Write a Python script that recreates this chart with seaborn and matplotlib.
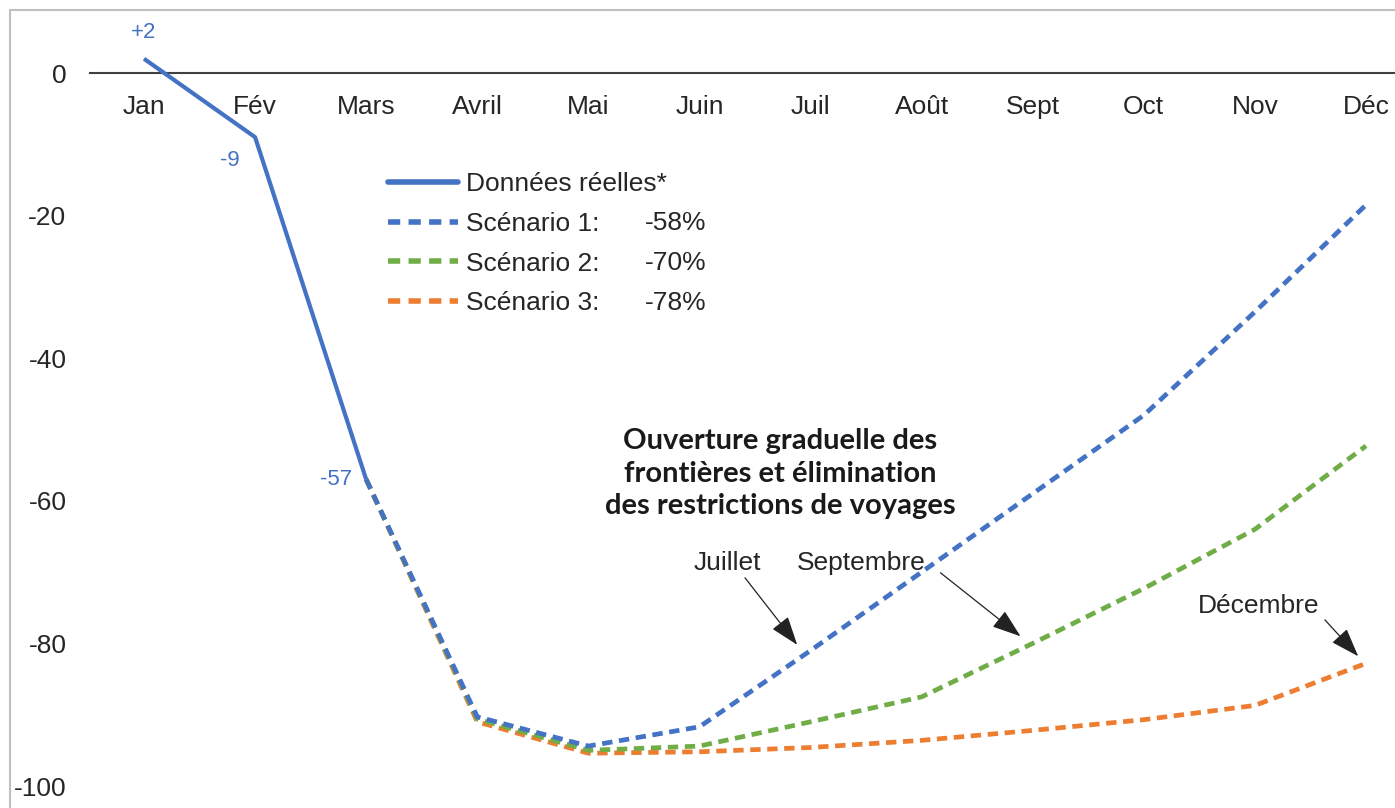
import matplotlib
matplotlib.use("Agg")
import matplotlib.pyplot as plt
from matplotlib.lines import Line2D
import seaborn as sns
import pandas as pd

# ---- data ----
months = ["Jan", "Fév", "Mars", "Avril", "Mai", "Juin", "Juil", "Août", "Sept", "Oct", "Nov", "Déc"]
actual = [2, -9, -57]
scen1 = [-57, -90.3, -94.4, -91.7, -81, -70, -59, -48, -33.5, -18.5]
scen2 = [-57, -90.6, -95.0, -94.4, -91.0, -87.5, -80, -72.3, -64, -52.3]
scen3 = [-57, -91.0, -95.4, -95.2, -94.6, -93.6, -92.2, -90.7, -88.7, -82.8]
actual_labels = ["+2", "-9", "-57"]
legend_labels = ["Données réelles*", "Scénario 1:", "Scénario 2:", "Scénario 3:"]
legend_pct = ["-58%", "-70%", "-78%"]
yticks = [0, -20, -40, -60, -80, -100]
note_text = "Ouverture graduelle des\nfrontières et élimination\ndes restrictions de voyages"
arrow_labels = ["Juillet", "Septembre", "Décembre"]

BLUE = "#4472C4"
GREEN = "#70AD47"
ORANGE = "#ED7D31"
TXT = "#262626"

sns.set_style("white")
plt.rcParams["font.family"] = ["Liberation Sans", "DejaVu Sans"]

W, H = 1395, 808
fig = plt.figure(figsize=(W / 100, H / 100), dpi=100)
fig.patch.set_facecolor("white")
ax = fig.add_axes([90 / W, 0, 1 - 90 / W, 1])

x_idx = list(range(len(months)))
df_act = pd.DataFrame({"x": x_idx[:3], "y": actual})
dash = (0, (2.2, 1.4))
lw = 3.4

for vals, col, z in [(scen3, ORANGE, 3), (scen2, GREEN, 4), (scen1, BLUE, 5)]:
    d = pd.DataFrame({"x": x_idx[2:], "y": vals})
    sns.lineplot(data=d, x="x", y="y", ax=ax, color=col, linewidth=lw,
                 linestyle=dash, zorder=z)
sns.lineplot(data=df_act, x="x", y="y", ax=ax, color=BLUE, linewidth=3.0,
             solid_capstyle="butt", zorder=6)

# axes setup
ax.set_xlim(-54 / 111.09, (W - 144) / 111.09)
ax.set_ylim(-(H - 73) / 7.13, 73 / 7.13)
for s in ["left", "right", "top"]:
    ax.spines[s].set_visible(False)
ax.spines["bottom"].set_position(("data", 0))
ax.spines["bottom"].set_color("#404040")
ax.spines["bottom"].set_linewidth(1.5)
ax.set_xticks(x_idx)
ax.set_xticklabels(months)
ax.set_yticks(yticks)
ax.set_yticklabels([str(v) for v in yticks])
ax.tick_params(axis="x", length=0, pad=16, labelsize=19, labelcolor=TXT)
ax.tick_params(axis="y", length=0, pad=17, labelsize=19, labelcolor=TXT)
ax.set_xlabel("")
ax.set_ylabel("")
ax.grid(False)

# data labels
offsets = [((0, 19), "center"), ((-18, -17), "center"), ((-10, 0), "right")]
for i, (lab, (off, ha)) in enumerate(zip(actual_labels, offsets)):
    ax.annotate(lab, (x_idx[i], actual[i]), xytext=off, textcoords="offset points",
                ha=ha, va="center", fontsize=16, color=BLUE)

# legend
handles = [Line2D([], [], color=BLUE, lw=4),
           Line2D([], [], color=BLUE, lw=4, linestyle=(0, (2.2, 1.5))),
           Line2D([], [], color=GREEN, lw=4, linestyle=(0, (2.2, 1.5))),
           Line2D([], [], color=ORANGE, lw=4, linestyle=(0, (2.2, 1.5)))]
leg = ax.legend(handles, legend_labels, loc="upper left",
                bbox_to_anchor=(388 / W, 1 - 172 / H), bbox_transform=fig.transFigure,
                frameon=False, fontsize=19, handlelength=2.65, handletextpad=0.3,
                labelspacing=0.6, borderpad=0, borderaxespad=0)
for t in leg.get_texts():
    t.set_color(TXT)
for i, p in enumerate(legend_pct):
    fig.text(645 / W, 1 - (223 + 40 * i) / H, p, ha="left", va="center",
             fontsize=19, color=TXT)

# bold note
ax.text(5.73, -56.2, note_text, ha="center", va="center", multialignment="center",
        fontsize=21, fontweight="bold", family=["Lato", "DejaVu Sans"],
        color="#1a1a1a", linespacing=1.3)

# arrows
ann = [((5.25, -68.7), (5.41, -70.8), (5.88, -80.2)),
       ((6.46, -68.7), (7.17, -70.1), (7.89, -79.0)),
       ((10.03, -74.8), (10.63, -76.7), (10.93, -81.8))]
for lab, (tpos, tail, tip) in zip(arrow_labels, ann):
    ax.text(tpos[0], tpos[1], lab, ha="center", va="center", fontsize=19, color=TXT)
    ax.annotate("", xy=tip, xytext=tail,
                arrowprops=dict(arrowstyle="-|>,head_length=1.0,head_width=0.35",
                                color="#222222", lw=0.9, mutation_scale=18,
                                shrinkA=0, shrinkB=0))

# outer frame (top & left)
fig.add_artist(Line2D([10 / W, 10 / W], [0, 1 - 10 / H], color="#BFBFBF", lw=1.5,
                      transform=fig.transFigure))
fig.add_artist(Line2D([10 / W, 1], [1 - 10 / H, 1 - 10 / H], color="#BFBFBF", lw=1.5,
                      transform=fig.transFigure))

fig.savefig("out.png", dpi=100)
